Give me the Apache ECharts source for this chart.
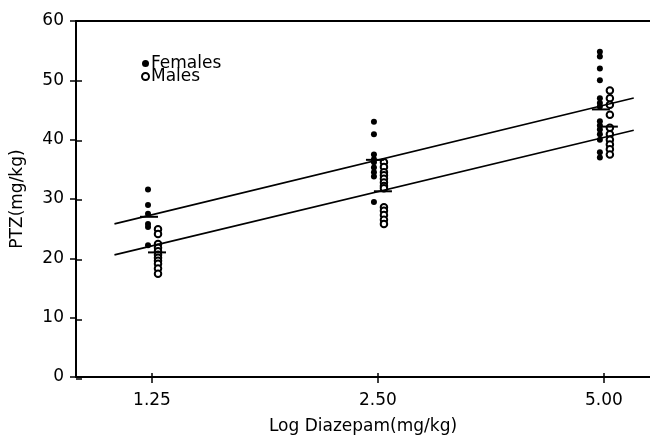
<!DOCTYPE html>
<html>
<head>
<meta charset="utf-8">
<script src="https://cdn.jsdelivr.net/npm/echarts@6/dist/echarts.min.js"></script>
<style>
    html, body { margin: 0; padding: 0; background: #fff; }
    #chart { width: 650px; height: 440px; }
</style>
</head>
<body>
<div id="chart"></div>
<script>
// doses (x, log scale)
var doses = [1.25, 2.5, 5.0];
var doseLabels = ['1.25', '2.50', '5.00'];
var yTicks = [0, 10, 20, 30, 40, 50, 60];

// PTZ threshold per animal
var females125 = [31.6, 29.0, 27.5, 25.8, 25.3, 22.2];
var females250 = [43.0, 40.9, 37.5, 36.7, 36.2, 35.3, 34.5, 33.8, 29.5];
var females500 = [54.8, 54.0, 52.0, 50.0, 47.0, 46.2, 45.6, 43.1, 42.4, 41.7, 40.9, 40.0, 37.9, 37.0];
var males125 = [24.9, 24.1, 22.4, 21.8, 21.2, 20.6, 20.1, 19.6, 19.1, 18.3, 17.4];
var males250 = [36.2, 35.4, 34.5, 34.0, 33.4, 32.8, 32.2, 31.8, 28.6, 28.0, 27.3, 26.5, 25.8];
var males500 = [48.3, 47.0, 45.9, 44.2, 42.0, 40.9, 40.0, 39.2, 38.4, 37.5];

// group means (short bars)
var femaleMeans = [27.0, 36.6, 45.1];
var maleMeans = [21.0, 31.3, 42.2];

// regression lines, end points [dose, PTZ]
var femaleFit = [[1.114, 26.0], [5.48, 47.1]];
var maleFit = [[1.114, 20.8], [5.48, 41.7]];

var font = 'DejaVu Sans';

function groupPoints(groups) {
    var out = [];
    for (let i = 0; i < groups.length; i++) {
        const vals = groups[i];
        for (let j = 0; j < vals.length; j++) {
            out.push([doses[i], vals[j]]);
        }
    }
    return out;
}
function meanPoints(means) {
    return means.map(function (m, i) { return [doses[i], m]; });
}

var xMin = 0.99, xMax = 5.76;
var gridBox = { left: 76, right: 0, top: 21, bottom: 61 };
var lineStyle = { color: '#000', width: 2 };
// axis line of the copy grid: kept "on" so its ticks draw, but hair thin
var thinLine = { color: '#000', width: 0.01 };
var tickStyle = { color: '#000', width: 1.5 };

var option = {
    animation: false,
    backgroundColor: '#fff',
    textStyle: { fontFamily: font, color: '#000' },
    grid: [
        Object.assign({}, gridBox),
        Object.assign({}, gridBox)   // same box: fit lines + ticks crossing into the plot
    ],
    legend: {
        orient: 'vertical',
        left: 141,
        top: 55,
        padding: 0,
        itemGap: -4,
        itemWidth: 7,
        itemHeight: 7,
        textStyle: { fontFamily: font, fontSize: 17, color: '#000', padding: [0, 0, 0, -3] },
        data: ['Females', 'Males']
    },
    xAxis: [
        {
            type: 'log', logBase: 2, min: xMin, max: xMax, gridIndex: 0,
            name: 'Log Diazepam(mg/kg)', nameLocation: 'middle', nameGap: 41,
            nameTextStyle: { fontFamily: font, fontSize: 17, color: '#000' },
            axisLine: { lineStyle: lineStyle },
            axisTick: { show: true, length: 6, lineStyle: tickStyle, customValues: doses },
            axisLabel: {
                margin: 15, fontFamily: font, fontSize: 17, color: '#000',
                customValues: doses,
                formatter: function (v) { return doseLabels[doses.indexOf(v)] || v.toFixed(2); }
            },
            splitLine: { show: false }
        },
        {
            // top frame line
            type: 'value', position: 'top', min: 0, max: 1, gridIndex: 0,
            axisLine: { show: true, lineStyle: lineStyle },
            axisTick: { show: false }, axisLabel: { show: false }, splitLine: { show: false }
        },
        {
            type: 'log', logBase: 2, min: xMin, max: xMax, gridIndex: 1, position: 'bottom',
            axisLine: { show: true, lineStyle: thinLine },
            axisTick: { show: true, inside: true, length: 6, lineStyle: tickStyle, customValues: doses },
            axisLabel: { show: false, customValues: doses },
            splitLine: { show: false }
        }
    ],
    yAxis: [
        {
            type: 'value', min: 0, max: 60, interval: 10, gridIndex: 0,
            name: 'PTZ(mg/kg)', nameLocation: 'middle', nameGap: 50, nameRotate: 90,
            nameTextStyle: { fontFamily: font, fontSize: 17, color: '#000' },
            axisLine: { show: true, lineStyle: lineStyle },
            axisTick: { show: true, length: 6, lineStyle: tickStyle },
            axisLabel: {
                margin: 12, fontFamily: font, fontSize: 17, color: '#000',
                formatter: function (v) { return yTicks.indexOf(v) >= 0 ? String(v) : ''; }
            },
            splitLine: { show: false }
        },
        {
            type: 'value', min: 0, max: 60, interval: 10, gridIndex: 1, position: 'left',
            axisLine: { show: true, lineStyle: thinLine },
            axisTick: { show: true, inside: true, length: 6, lineStyle: tickStyle },
            axisLabel: { show: false }, splitLine: { show: false }
        }
    ],
    series: [
        {
            name: 'Females', type: 'scatter',
            symbol: 'circle', symbolSize: 6, symbolOffset: [-4, 0],
            itemStyle: { color: '#000', opacity: 1 },
            data: groupPoints([females125, females250, females500])
        },
        {
            name: 'Males', type: 'scatter',
            symbol: 'emptyCircle', symbolSize: 6.5, symbolOffset: [6, 0],
            itemStyle: { color: '#000', borderWidth: 1.6, opacity: 1 },
            data: groupPoints([males125, males250, males500])
        },
        {
            name: 'Female mean', type: 'scatter',
            symbol: 'rect', symbolSize: [18, 2], symbolOffset: [-3, 0],
            itemStyle: { color: '#000', opacity: 1 },
            data: meanPoints(femaleMeans)
        },
        {
            name: 'Male mean', type: 'scatter',
            symbol: 'rect', symbolSize: [18, 2], symbolOffset: [5, 0],
            itemStyle: { color: '#000', opacity: 1 },
            data: meanPoints(maleMeans)
        },
        {
            name: 'Female fit', type: 'line', showSymbol: false, symbol: 'none',
            xAxisIndex: 2, yAxisIndex: 1,
            lineStyle: { color: '#000', width: 1.6 },
            data: femaleFit
        },
        {
            name: 'Male fit', type: 'line', showSymbol: false, symbol: 'none',
            xAxisIndex: 2, yAxisIndex: 1,
            lineStyle: { color: '#000', width: 1.6 },
            data: maleFit
        }
    ]
};

var myChart = echarts.init(document.getElementById('chart'));
myChart.setOption(option);
</script>
</body>
</html>
